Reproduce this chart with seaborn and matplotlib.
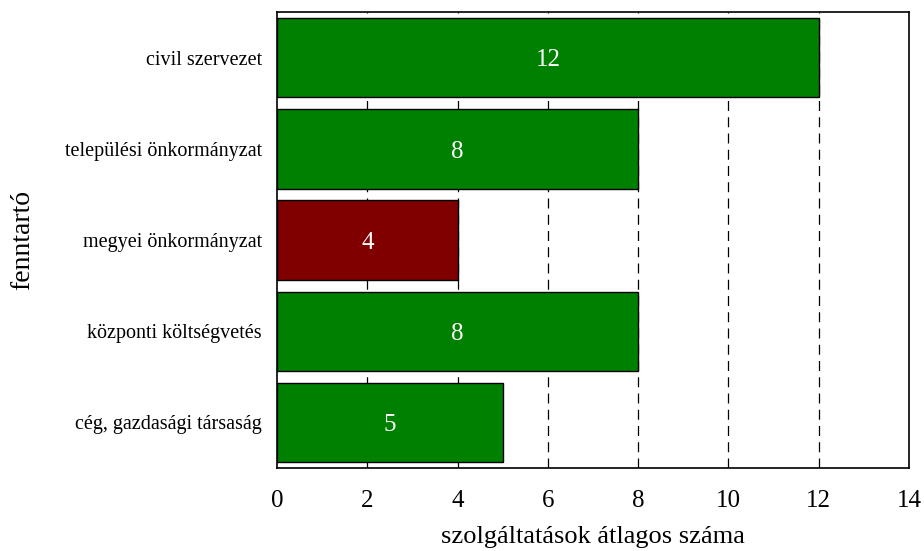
import matplotlib
matplotlib.use("Agg")
import matplotlib.pyplot as plt
import seaborn as sns
import pandas as pd

categories = ["civil szervezet", "települési önkormányzat", "megyei önkormányzat",
              "központi költségvetés", "cég, gazdasági társaság"]
values = [12, 8, 4, 8, 5]
bar_colors = ["#008000", "#008000", "#800000", "#008000", "#008000"]
x_ticks = [0, 2, 4, 6, 8, 10, 12, 14]

sns.set_theme(style="white")
plt.rcParams['font.family'] = ['Liberation Serif', 'DejaVu Serif']
plt.rcParams['text.color'] = 'black'
plt.rcParams['axes.labelcolor'] = 'black'
plt.rcParams['xtick.color'] = 'black'
plt.rcParams['ytick.color'] = 'black'

df = pd.DataFrame({"cat": categories, "val": values})

fig = plt.figure(figsize=(9.24, 5.51), dpi=100)
ax = fig.add_axes([0.2998, 0.1506, 0.9838 - 0.2998, 0.978 - 0.1506])

for x in x_ticks[1:-1]:
    ax.axvline(x, color="black", linestyle=(0, (8, 5)), linewidth=0.9, zorder=0)

sns.barplot(data=df, y="cat", x="val", hue="cat", palette=bar_colors, legend=False,
            orient="h", width=0.87, edgecolor="black", linewidth=1.0, saturation=1,
            ax=ax, zorder=2)

for i, v in enumerate(values):
    ax.text(v / 2, i + 0.03, str(v), color="white", ha="center", va="center",
            fontsize=18, zorder=3)

ax.set_xlim(0, 14)
ax.set_ylim(4.5, -0.5)
ax.set_xticks(x_ticks)
ax.tick_params(axis="x", length=0, labelsize=18, pad=16, bottom=False, top=False,
               labelcolor="black")
ax.tick_params(axis="y", left=False, labelsize=14.5, pad=5, labelcolor="black")
ax.set_xlabel("szolgáltatások átlagos száma", fontsize=19, labelpad=10, color="black")
ax.set_ylabel("fenntartó", fontsize=20, color="black")
ax.yaxis.set_label_coords(-0.382, 0.5)
for s in ax.spines.values():
    s.set_visible(True)
    s.set_color("black")
    s.set_linewidth(1.2)

fig.savefig("out.png", dpi=100)
